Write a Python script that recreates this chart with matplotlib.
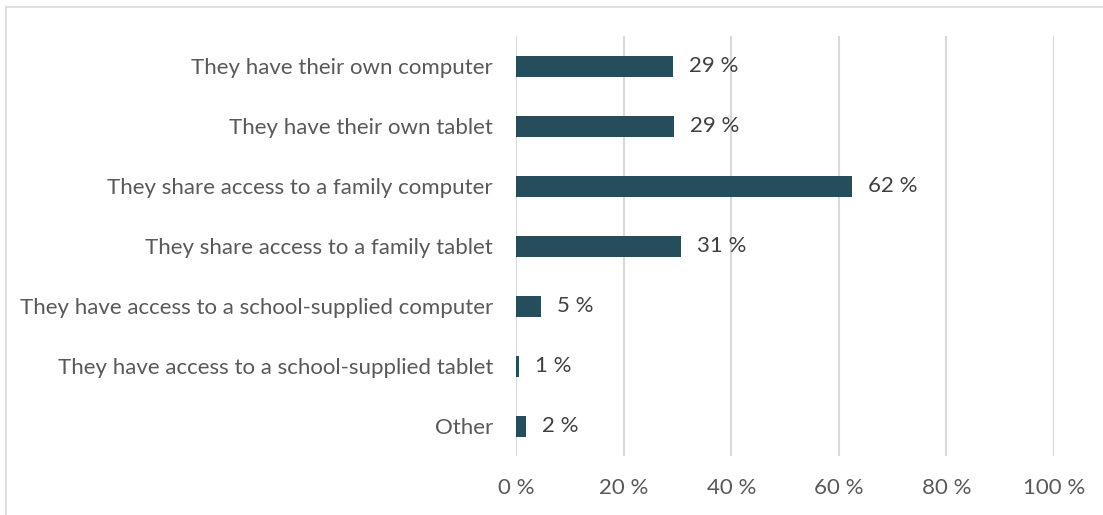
import matplotlib.pyplot as plt
from matplotlib.patches import Rectangle

categories = [
    "They have their own computer",
    "They have their own tablet",
    "They share access to a family computer",
    "They share access to a family tablet",
    "They have access to a school-supplied computer",
    "They have access to a school-supplied tablet",
    "Other",
]
values = [29.1, 29.3, 62.5, 30.6, 4.7, 0.6, 1.9]
labels = ["29 %", "29 %", "62 %", "31 %", "5 %", "1 %", "2 %"]
ticks = [0, 20, 40, 60, 80, 100]

plt.rcParams['font.family'] = ['Lato', 'DejaVu Sans']

fig = plt.figure(figsize=(11.03, 5.15), dpi=100)
ax = fig.add_axes([516 / 1103, 1 - 456 / 515, 538 / 1103, 420 / 515])

# cadre gris autour du graphique
fig.patches.append(Rectangle((6 / 1103, -0.1), 1.2, 1.1 - 7 / 515, transform=fig.transFigure,
                             fill=False, edgecolor='#d9d9d9', linewidth=1.2))

y = list(range(len(categories)))
ax.barh(y, values, height=0.35, color='#264d5c', zorder=3)
for yi, v, lab in zip(y, values, labels):
    ax.text(v + 3, yi, lab, va='center', ha='left', fontsize=16, color='#404040')

ax.set_xlim(0, 100)
ax.set_ylim(len(categories) - 0.5, -0.5)
ax.set_yticks(y)
ax.set_yticklabels(categories, fontsize=16, color='#595959')
ax.set_xticks(ticks)
ax.set_xticklabels([f"{t} %" for t in ticks], fontsize=16, color='#595959')
ax.tick_params(axis='y', length=0, pad=16.5)
ax.tick_params(axis='x', length=0, pad=16)
ax.grid(axis='x', color='#d9d9d9', linewidth=1.5, zorder=0)
for s in ax.spines.values():
    s.set_visible(False)

fig.savefig('out.png', dpi=100)
